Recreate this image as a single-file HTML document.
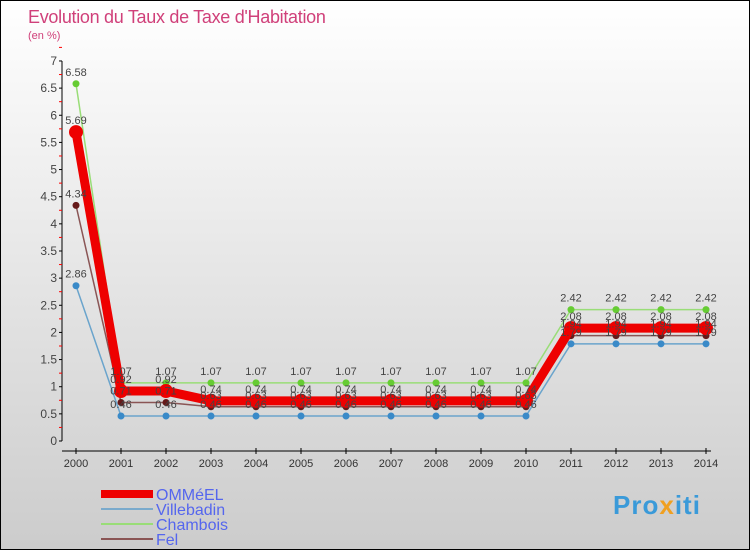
<!DOCTYPE html>
<html><head><meta charset="utf-8"><style>
body{margin:0}
#wrap{position:relative;width:748px;height:548px;border:1px solid #000;background:linear-gradient(#fff,#ccc);font-family:"Liberation Sans",sans-serif;overflow:hidden}
.t{position:absolute;white-space:nowrap}
</style></head><body>
<div id="wrap">
<div class="t" style="left:27px;top:6px;font-size:18px;color:#d0407a;letter-spacing:-0.3px">Evolution du Taux de Taxe d'Habitation</div>
<div class="t" style="left:27px;top:29px;font-size:11px;color:#d0407a">(en %)</div>
<svg id="svg" width="748" height="548" style="position:absolute;left:0;top:0"></svg>
<div class="t" style="left:612px;top:489px;font-size:26px;font-weight:bold;color:#3a9ad9;letter-spacing:1px">Pro<span style="color:#f0a020">x</span>iti</div>
</div>
<script>
const years=[2000,2001,2002,2003,2004,2005,2006,2007,2008,2009,2010,2011,2012,2013,2014];
const ommeel=[5.69,0.92,0.92,0.74,0.74,0.74,0.74,0.74,0.74,0.74,0.74,2.08,2.08,2.08,2.08];
const villebadin=[2.86,0.46,0.46,0.46,0.46,0.46,0.46,0.46,0.46,0.46,0.46,1.79,1.79,1.79,1.79];
const chambois=[6.58,1.07,1.07,1.07,1.07,1.07,1.07,1.07,1.07,1.07,1.07,2.42,2.42,2.42,2.42];
const fel=[4.34,0.71,0.71,0.63,0.63,0.63,0.63,0.63,0.63,0.63,0.63,1.94,1.94,1.94,1.94];
const yTicks=[0,0.5,1,1.5,2,2.5,3,3.5,4,4.5,5,5.5,6,6.5,7];
const svg=document.getElementById('svg');const NS='http://www.w3.org/2000/svg';
const X=i=>75+i*45, Y=v=>440-v*54.29;
function mk(tag,attrs,parent){const e=document.createElementNS(NS,tag);for(const k in attrs)e.setAttribute(k,attrs[k]);(parent||svg).appendChild(e);return e;}
let ax=mk('line',{x1:61,y1:60,x2:61,y2:440,stroke:'#000'});

let bx=mk('line',{x1:61,y1:450,x2:710,y2:450,stroke:'#000'});

yTicks.forEach(v=>{mk('line',{x1:58,x2:61,y1:Y(v),y2:Y(v),stroke:'#000'});
 mk('line',{x1:58,x2:61,y1:Y(v+0.25),y2:Y(v+0.25),stroke:'#f00'});
 let t=mk('text',{x:56,y:Y(v)+4,'text-anchor':'end','font-size':12,fill:'#444'});t.textContent=v;
 });
years.forEach((y,i)=>{mk('line',{x1:X(i),x2:X(i),y1:447,y2:453,stroke:'#000'});
 let t=mk('text',{x:X(i),y:466,'text-anchor':'middle','font-size':11,fill:'#333'});t.textContent=y;
 });
const series=[
 {n:'villebadin',d:villebadin,c:'#6aa4cc',p:'#3a8ac8',w:1.5,r:3.5},
 {n:'chambois',d:chambois,c:'#99dd77',p:'#66cc33',w:1.5,r:3.5},
 {n:'fel',d:fel,c:'#8a5555',p:'#661a1a',w:1.5,r:3.5},
 {n:'ommeel',d:ommeel,c:'#ee0000',p:'#ee0000',w:9,r:7}];
series.forEach(s=>{
 let pl=mk('polyline',{points:s.d.map((v,i)=>X(i)+','+Y(v)).join(' '),fill:'none',stroke:s.c,'stroke-width':s.w});
 
 s.d.forEach((v,i)=>{let c=mk('circle',{cx:X(i),cy:Y(v),r:s.r,fill:s.p});
  });});
series.forEach(s=>{s.d.forEach((v,i)=>{let t=mk('text',{x:X(i),y:Y(v)-8,'text-anchor':'middle','font-size':11,fill:'#444'});t.textContent=v;
 });});
const leg=[['OMMéEL','#ee0000',8],['Villebadin','#7aaacc',2],['Chambois','#99dd77',2],['Fel','#8a5555',2]];
leg.forEach((l,i)=>{const y=493+i*15;
 let ln=mk('line',{x1:100,x2:152,y1:y,y2:y,stroke:l[1],'stroke-width':l[2]});
 
 let t=mk('text',{x:155,y:y+6,'font-size':16,fill:'#5566ee'});t.textContent=l[0];
 });
</script>
</body></html>
